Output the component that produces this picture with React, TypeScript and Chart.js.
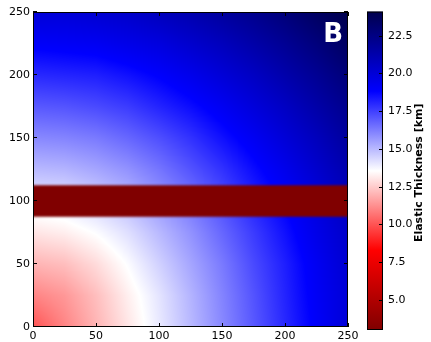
import React, { useEffect, useRef } from "react";
import { Chart, registerables } from "chart.js";

Chart.register(...registerables);

// ---- data ----
// grid node coordinates (x and y, in model units)
const gridX = [0, 25, 50, 75, 100, 125, 150, 175, 200, 225, 250];
const gridY = [0, 25, 50, 75, 100, 125, 150, 175, 200, 225, 250];
// elastic thickness [km] at grid nodes, thickness[row for gridY][col for gridX]
const thickness = [
  [10.0, 11.0, 12.0, 13.0, 14.0, 15.0, 16.0, 17.0, 18.0, 19.0, 20.0],
  [11.0, 11.4, 12.2, 13.2, 14.1, 15.1, 16.1, 17.1, 18.1, 19.1, 20.0],
  [12.0, 12.2, 12.8, 13.6, 14.5, 15.4, 16.3, 17.3, 18.2, 19.2, 20.2],
  [13.0, 13.2, 13.6, 14.2, 15.0, 15.8, 16.7, 17.6, 18.5, 19.5, 20.4],
  [14.0, 14.1, 14.5, 15.0, 15.7, 16.4, 17.2, 18.1, 18.9, 19.8, 20.8],
  [15.0, 15.1, 15.4, 15.8, 16.4, 17.1, 17.8, 18.6, 19.4, 20.3, 21.2],
  [16.0, 16.1, 16.3, 16.7, 17.2, 17.8, 18.5, 19.2, 20.0, 20.8, 21.7],
  [17.0, 17.1, 17.3, 17.6, 18.1, 18.6, 19.2, 19.9, 20.6, 21.4, 22.2],
  [18.0, 18.1, 18.2, 18.5, 18.9, 19.4, 20.0, 20.6, 21.3, 22.0, 22.8],
  [19.0, 19.1, 19.2, 19.5, 19.8, 20.3, 20.8, 21.4, 22.0, 22.7, 23.5],
  [20.0, 20.0, 20.2, 20.4, 20.8, 21.2, 21.7, 22.2, 22.8, 23.5, 24.1],
];
// weak band (y range) and its thickness [km]
const bandY = [87.5, 112.5];
const bandThickness = 3.0;

const axisTicks = [0, 50, 100, 150, 200, 250];
const colorbarTicks = [5.0, 7.5, 10.0, 12.5, 15.0, 17.5, 20.0, 22.5];
const panelLabel = "B";
const colorbarLabel = "Elastic Thickness [km]";

const allValues = [bandThickness, ...thickness.flat()];
const vmin = Math.min(...allValues);
const vmax = Math.max(...allValues);

const FONT = "'DejaVu Sans', 'Liberation Sans', sans-serif";

// matplotlib seismic_r colormap
const cmapStops: [number, number[]][] = [
  [0.0, [0.5, 0, 0]],
  [0.25, [1, 0, 0]],
  [0.5, [1, 1, 1]],
  [0.75, [0, 0, 1]],
  [1.0, [0, 0, 0.3]],
];
function cmap(v: number): number[] {
  let t = (v - vmin) / (vmax - vmin);
  t = Math.max(0, Math.min(1, t));
  for (let k = 0; k < cmapStops.length - 1; k++) {
    const [t0, c0] = cmapStops[k];
    const [t1, c1] = cmapStops[k + 1];
    if (t <= t1) {
      const f = (t - t0) / (t1 - t0);
      return c0.map((c, i) => Math.round((c + (c1[i] - c) * f) * 255));
    }
  }
  return cmapStops[cmapStops.length - 1][1].map((c) => Math.round(c * 255));
}
const rgb = (c: number[]) => `rgb(${c[0]},${c[1]},${c[2]})`;

// bilinear sampling of the grid (display interpolation, like imshow)
function sample(x: number, y: number): number {
  const nx = gridX.length;
  const ny = gridY.length;
  const fx = Math.max(0, Math.min(nx - 1.0001, (x - gridX[0]) / (gridX[1] - gridX[0])));
  const fy = Math.max(0, Math.min(ny - 1.0001, (y - gridY[0]) / (gridY[1] - gridY[0])));
  const i = Math.floor(fx);
  const j = Math.floor(fy);
  const ax = fx - i;
  const ay = fy - j;
  const v00 = thickness[j][i];
  const v10 = thickness[j][i + 1];
  const v01 = thickness[j + 1][i];
  const v11 = thickness[j + 1][i + 1];
  return v00 * (1 - ax) * (1 - ay) + v10 * ax * (1 - ay) + v01 * (1 - ax) * ay + v11 * ax * ay;
}

const heatmapPlugin = {
  id: "heatmap",
  beforeDatasetsDraw(chart: any) {
    const { ctx, chartArea } = chart;
    const xs = chart.scales.x;
    const ys = chart.scales.y;
    const left = Math.round(chartArea.left);
    const top = Math.round(chartArea.top);
    const w = Math.round(chartArea.right) - left;
    const h = Math.round(chartArea.bottom) - top;
    const img = ctx.createImageData(w, h);
    for (let r = 0; r < h; r++) {
      const yv = ys.getValueForPixel(top + r + 0.5);
      for (let c = 0; c < w; c++) {
        const xv = xs.getValueForPixel(left + c + 0.5);
        const col = cmap(sample(xv, yv));
        const p = (r * w + c) * 4;
        img.data[p] = col[0];
        img.data[p + 1] = col[1];
        img.data[p + 2] = col[2];
        img.data[p + 3] = 255;
      }
    }
    const off = document.createElement("canvas");
    off.width = w;
    off.height = h;
    off.getContext("2d")!.putImageData(img, 0, 0);
    ctx.save();
    ctx.beginPath();
    ctx.rect(chartArea.left, chartArea.top, chartArea.right - chartArea.left, chartArea.bottom - chartArea.top);
    ctx.clip();
    ctx.drawImage(off, left, top);
    // band
    const b0 = ys.getPixelForValue(bandY[1]);
    const b1 = ys.getPixelForValue(bandY[0]);
    ctx.filter = "blur(1px)";
    ctx.fillStyle = rgb(cmap(bandThickness));
    ctx.fillRect(chartArea.left - 6, b0, chartArea.right - chartArea.left + 12, b1 - b0);
    ctx.restore();
  },
  afterDraw(chart: any) {
    const { ctx, chartArea } = chart;
    const { left, right, top, bottom } = chartArea;
    const xs = chart.scales.x;
    const ys = chart.scales.y;
    ctx.save();
    ctx.strokeStyle = "#000";
    ctx.lineWidth = 1;
    ctx.strokeRect(left + 0.5, top + 0.5, right - left - 1, bottom - top - 1);
    ctx.beginPath();
    const L = 4;
    axisTicks.forEach((v) => {
      const x = Math.round(xs.getPixelForValue(v)) + 0.5;
      ctx.moveTo(x, bottom);
      ctx.lineTo(x, bottom - L);
      ctx.moveTo(x, top);
      ctx.lineTo(x, top + L);
      const y = Math.round(ys.getPixelForValue(v)) - 0.5;
      ctx.moveTo(left, y);
      ctx.lineTo(left + L, y);
      ctx.moveTo(right, y);
      ctx.lineTo(right - L, y);
    });
    ctx.stroke();
    ctx.fillStyle = "#fff";
    ctx.font = `bold 26px ${FONT}`;
    ctx.textAlign = "right";
    ctx.textBaseline = "alphabetic";
    ctx.fillText(panelLabel, right - 5, top + 30);
    ctx.restore();
  },
};

const colorbarPlugin = {
  id: "colorbar",
  beforeDatasetsDraw(chart: any) {
    const { ctx, chartArea } = chart;
    const ys = chart.scales.y;
    const g = ctx.createLinearGradient(0, ys.getPixelForValue(vmin), 0, ys.getPixelForValue(vmax));
    cmapStops.forEach(([t, c]) => g.addColorStop(t, rgb(c.map((v) => Math.round(v * 255)))));
    ctx.save();
    ctx.fillStyle = g;
    ctx.fillRect(chartArea.left, chartArea.top, chartArea.right - chartArea.left, chartArea.bottom - chartArea.top);
    ctx.restore();
  },
  afterDraw(chart: any) {
    const { ctx, chartArea } = chart;
    const { left, right, top, bottom } = chartArea;
    const ys = chart.scales.y;
    ctx.save();
    ctx.strokeStyle = "#000";
    ctx.lineWidth = 1;
    ctx.strokeRect(left + 0.5, top + 0.5, right - left - 1, bottom - top - 1);
    ctx.beginPath();
    colorbarTicks.forEach((v) => {
      const y = Math.round(ys.getPixelForValue(v)) + 0.5;
      ctx.moveTo(right, y);
      ctx.lineTo(right - 4, y);
    });
    ctx.stroke();
    ctx.fillStyle = "#000";
    ctx.font = `bold 11px ${FONT}`;
    ctx.textAlign = "center";
    ctx.textBaseline = "middle";
    ctx.translate(419, (top + bottom) / 2 + 2);
    ctx.rotate(-Math.PI / 2);
    ctx.fillText(colorbarLabel, 0, 0);
    ctx.restore();
  },
};

export default function App() {
  const mainRef = useRef<HTMLCanvasElement>(null);
  const cbRef = useRef<HTMLCanvasElement>(null);

  useEffect(() => {
    const tickFont = { family: FONT, size: 11 };
    const main = new Chart(mainRef.current!, {
      type: "scatter",
      data: { datasets: [] },
      options: {
        animation: false,
        responsive: false,
        devicePixelRatio: 1,
        layout: { padding: { top: 12, right: 83, bottom: 0, left: 0 } },
        plugins: { legend: { display: false }, tooltip: { enabled: false } },
        scales: {
          x: {
            type: "linear",
            min: 0,
            max: 250,
            grid: { display: false, drawTicks: false },
            border: { display: false },
            afterBuildTicks: (s: any) => {
              s.ticks = axisTicks.map((v) => ({ value: v }));
            },
            afterFit: (s: any) => {
              s.height = 15;
            },
            ticks: { color: "#000", font: tickFont, padding: 3, maxRotation: 0, autoSkip: false },
          },
          y: {
            type: "linear",
            min: 0,
            max: 250,
            grid: { display: false, drawTicks: false },
            border: { display: false },
            afterBuildTicks: (s: any) => {
              s.ticks = axisTicks.map((v) => ({ value: v }));
            },
            afterFit: (s: any) => {
              s.width = 33;
            },
            ticks: { color: "#000", font: tickFont, padding: 3, autoSkip: false },
          },
        },
      },
      plugins: [heatmapPlugin],
    } as any);

    const cb = new Chart(cbRef.current!, {
      type: "scatter",
      data: { datasets: [] },
      options: {
        animation: false,
        responsive: false,
        devicePixelRatio: 1,
        layout: { padding: { top: 9, right: 0, bottom: 12, left: 367 } },
        plugins: { legend: { display: false }, tooltip: { enabled: false } },
        scales: {
          x: { type: "linear", display: false, min: 0, max: 1 },
          y: {
            type: "linear",
            position: "right",
            min: vmin,
            max: vmax,
            grid: { display: false, drawTicks: false },
            border: { display: false },
            afterBuildTicks: (s: any) => {
              s.ticks = colorbarTicks.map((v) => ({ value: v }));
            },
            afterFit: (s: any) => {
              s.width = 48;
            },
            ticks: {
              color: "#000",
              font: tickFont,
              padding: 5,
              autoSkip: false,
              callback: (v: any) => Number(v).toFixed(1),
            },
          },
        },
      },
      plugins: [colorbarPlugin],
    } as any);

    return () => {
      main.destroy();
      cb.destroy();
    };
  }, []);

  return (
    <div style={{ position: "fixed", left: 0, top: 0, width: 431, height: 342, background: "#fff" }}>
      <canvas ref={mainRef} width={431} height={342} style={{ position: "absolute", left: 0, top: 0 }} />
      <canvas ref={cbRef} width={431} height={342} style={{ position: "absolute", left: 0, top: 0 }} />
    </div>
  );
}
